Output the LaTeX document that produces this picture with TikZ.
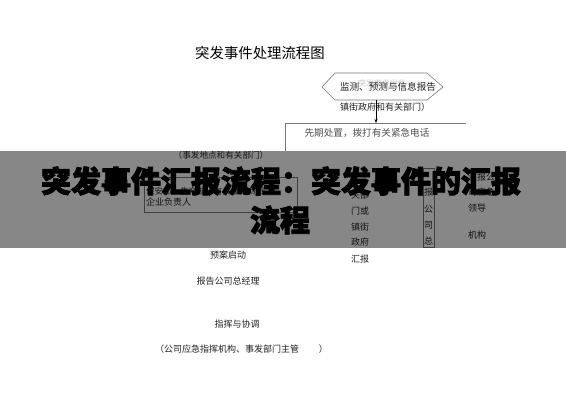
\documentclass[tikz,border=0pt]{standalone}
\usepackage{fontspec}
\newfontfamily\cjk{Noto Sans CJK SC}
\newfontfamily\cjkbig{Noto Sans CJK SC}[BoldFeatures={FakeBold=3}]
\usetikzlibrary{arrows.meta}
\definecolor{txt}{HTML}{222222}
\definecolor{lin}{HTML}{777777}
\tikzset{
  lbl/.style={inner sep=0pt, text=txt, font=\cjk\fontsize{9}{10}\selectfont},
  lblL/.style={lbl, anchor=west},
  ttl/.style={inner sep=0pt, text=black, font=\cjk\fontsize{14.4}{16}\selectfont},
  big/.style={inner sep=0pt, text=black, font=\cjkbig\bfseries\fontsize{30}{32}\selectfont},
  frame/.style={draw=lin, line width=0.6pt},
  conn/.style={draw=black, line width=0.5pt, -{Stealth[length=4pt,width=3pt]}},
}
\begin{document}
\begin{tikzpicture}[x=1pt,y=-1pt]
\useasboundingbox (0,0) rectangle (566,400);
\fill[white] (0,0) rectangle (566,400);
% title
\node[ttl] (title) at (260,53) {突发事件处理流程图};
% hexagon
\draw[frame] (322,87) -- (335,73) -- (427,73) -- (443,87) -- (427,100) -- (335,100) -- cycle;
\coordinate (hexbot) at (376,100);
\node[lbl, text=gray!45, font=\cjk\fontsize{8}{9}\selectfont] (ev) at (382,83) {突发事件发生};
\node[lbl, font=\cjk\fontsize{9.6}{11}\selectfont] (mon) at (388,87) {监测、预测与信息报告};
\node[lbl] (gov) at (385,107) {镇街政府和有关部门）};
% box "先期处置"
\coordinate (boxtop) at (376,123);
\draw[frame] (285,151) -- (285,123) -- (466,123);
\draw[conn] (hexbot) -- (boxtop);
\node[lbl, text=txt!80, font=\cjk\fontsize{9.6}{11}\selectfont] (first) at (367,133) {先期处置，拨打有关紧急电话};
% under band
\node[lbl, font=\cjk\fontsize{8.6}{10}\selectfont] (place) at (221,155) {（事发地点和有关部门）};
\draw[frame] (144,177) rectangle (297,212);
\node[lblL, font=\cjk\fontsize{8.5}{10}\selectfont] (sec1) at (146,191) {保安部、生产部、有关部门负责人、};
\node[lblL, font=\cjk\fontsize{9}{10}\selectfont] (sec2) at (146,202) {企业负责人};
% column left
\node[lbl] (c1) at (360,195) {关部};
\node[lbl] (c2) at (360,211) {门或};
\node[lbl] (c3) at (360,227) {镇街};
\node[lbl] (c4) at (360,242) {政府};
\node[lbl] (c5) at (360,259) {汇报};
% vertical box
\draw[frame] (423,168) rectangle (434,247);
\node[lbl] (v1) at (428.5,192) {报};
\node[lbl] (v2) at (428.5,209) {公};
\node[lbl] (v3) at (428.5,225) {司};
\node[lbl] (v4) at (428.5,241) {总};
% right column
\node[lblL] (r1) at (468,177) {汇报公};
\node[lblL] (r2) at (468,192) {司应急};
\node[lblL] (r3) at (468,208) {领导};
\node[lblL] (r4) at (468,235) {机构};
% below band
\node[lbl] (plan) at (228,255) {预案启动};
\node[lbl] (gm) at (228,281) {报告公司总经理};
\node[lbl] (cmd) at (237,324) {指挥与协调};
\node[lblL] (org) at (155,349) {（公司应急指挥机构、事发部门主管\hspace{2.2em}）};
% overlay band
\fill[black, opacity=0.47] (0,151) rectangle (566,248);
% big text
\node[big] (h1) at (281,181) {突发事件汇报流程：突发事件的汇报};
\node[big] (h2) at (280,220) {流程};
\end{tikzpicture}
\end{document}
